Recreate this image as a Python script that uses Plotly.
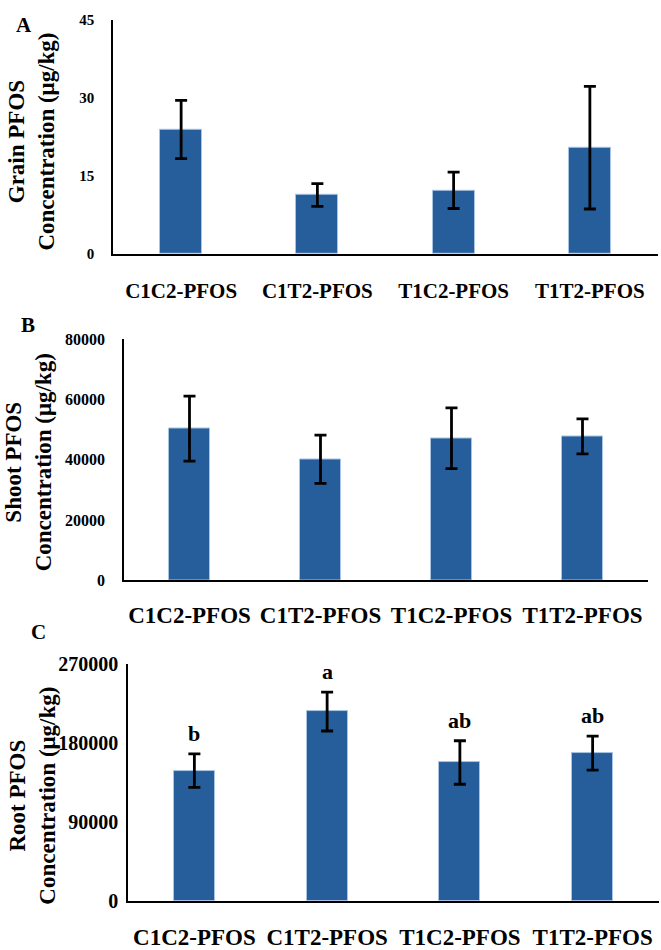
import plotly.graph_objects as go

categories = ["C1C2-PFOS", "C1T2-PFOS", "T1C2-PFOS", "T1T2-PFOS"]

grain_mean = [23.9, 11.3, 12.2, 20.4]
grain_err = [5.6, 2.2, 3.5, 11.8]

shoot_mean = [50400, 40200, 47200, 47800]
shoot_err = [10800, 8000, 10100, 5800]

root_mean = [148500, 215900, 157800, 168500]
root_err = [19100, 22200, 24800, 19400]
root_letters = ["b", "a", "ab", "ab"]

grain_ticks = [0, 15, 30, 45]
shoot_ticks = [0, 20000, 40000, 60000, 80000]
root_ticks = [0, 90000, 180000, 270000]

W, H = 661, 950
BAR = "#255E9B"
FONT = "Liberation Serif"

def px_x(p):
    return p / W

def px_y(p):
    return 1 - p / H

fig = go.Figure()

panels = [
    dict(mean=grain_mean, err=grain_err, xa="x", ya="y"),
    dict(mean=shoot_mean, err=shoot_err, xa="x2", ya="y2"),
    dict(mean=root_mean, err=root_err, xa="x3", ya="y3"),
]
for p in panels:
    fig.add_trace(go.Bar(
        x=categories, y=p["mean"], width=0.31,
        marker=dict(color=BAR, line=dict(color="#A9C3E3", width=1)),
        error_y=dict(type="data", array=p["err"], visible=True,
                     color="black", thickness=2.8, width=6),
        xaxis=p["xa"], yaxis=p["ya"], showlegend=False,
    ))

def xaxis(domain, anchor, size, standoff):
    return dict(domain=domain, anchor=anchor, type="category", range=[-0.5, 3.5],
                showline=True, linecolor="black", linewidth=1.5,
                ticks="outside", ticklen=standoff, tickcolor="rgba(0,0,0,0)",
                tickfont=dict(family=FONT, size=size, color="black", weight="bold"),
                showgrid=False, zeroline=False, fixedrange=True)

def yaxis(domain, anchor, rng, tickvals, size, standoff):
    return dict(domain=domain, anchor=anchor, range=rng, tickvals=tickvals,
                tickformat="d",
                showline=True, linecolor="black", linewidth=1.5,
                ticks="outside", ticklen=standoff, tickcolor="rgba(0,0,0,0)",
                tickfont=dict(family=FONT, size=size, color="black", weight="bold"),
                showgrid=False, zeroline=False, fixedrange=True)

fig.update_layout(
    width=W, height=H,
    margin=dict(l=0, r=0, t=0, b=0),
    paper_bgcolor="white", plot_bgcolor="white",
    font=dict(family=FONT, color="black"),
    bargap=0,
    xaxis=xaxis([px_x(113), px_x(658)], "y", 21, 17),
    yaxis=yaxis([px_y(249), px_y(9)], "x", [0, 45], grain_ticks, 15, 14),
    xaxis2=xaxis([px_x(124), px_x(648)], "y2", 23, 13),
    yaxis2=yaxis([px_y(584), px_y(337)], "x2", [0, 80000], shoot_ticks, 16, 14),
    xaxis3=xaxis([px_x(128), px_x(659)], "y3", 23, 15),
    yaxis3=yaxis([px_y(913), px_y(670)], "x3", [0, 270000], root_ticks, 20, 4),
)

annotations = []
# Panel letters
for letter, x, y in [("A", 24, 14), ("B", 28, 322), ("C", 38, 637)]:
    annotations.append(dict(text=letter, x=px_x(x), y=px_y(y), xref="paper", yref="paper",
                            showarrow=False, xanchor="center", yanchor="middle",
                            font=dict(family=FONT, size=21, color="black", weight="bold")))
# Y axis titles
for title, x, y in [("Grain PFOS<br>Concentration (μg/kg)", 32, 134),
                    ("Shoot PFOS<br>Concentration (μg/kg)", 28, 463),
                    ("Root PFOS<br>Concentration (μg/kg)", 33, 805)]:
    annotations.append(dict(text=title, x=px_x(x), y=px_y(y), xref="paper", yref="paper",
                            showarrow=False, textangle=-90, xanchor="center", yanchor="middle",
                            font=dict(family=FONT, size=23, color="black", weight="bold")))
# Significance letters
for cat, m, e, lab in zip(categories, root_mean, root_err, root_letters):
    annotations.append(dict(text=lab, x=cat, y=m + e, xref="x3", yref="y3",
                            showarrow=False, yanchor="bottom", yshift=6,
                            font=dict(family=FONT, size=22, color="black", weight="bold")))
fig.update_layout(annotations=annotations)

fig.write_html("out.html")
